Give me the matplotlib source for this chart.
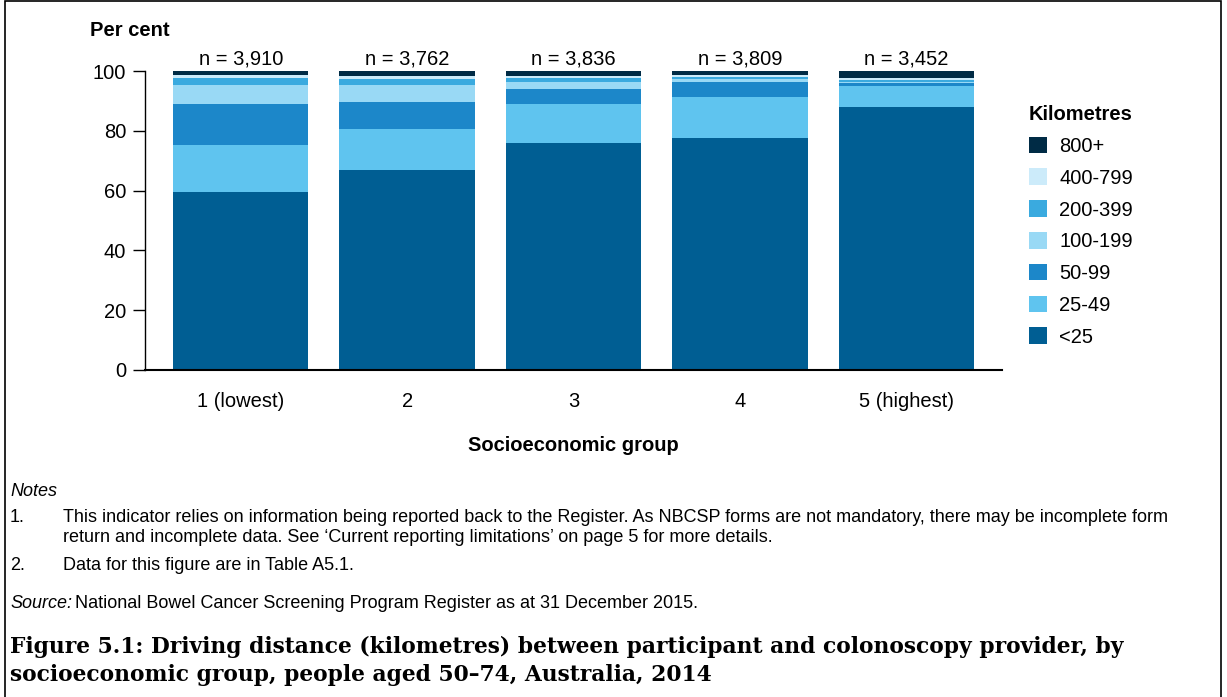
import numpy as np
import matplotlib.pyplot as plt
from matplotlib.patches import Patch, Rectangle

plt.rcParams['font.family'] = ['Liberation Sans', 'DejaVu Sans']

groups = ['1 (lowest)', '2', '3', '4', '5 (highest)']
n_labels = ['n = 3,910', 'n = 3,762', 'n = 3,836', 'n = 3,809', 'n = 3,452']

# per cent of participants by driving distance band (bottom to top)
bands = ['<25', '25-49', '50-99', '100-199', '200-399', '400-799', '800+']
lt25 = [59.5, 67.0, 75.8, 77.6, 87.8]
km25_49 = [15.6, 13.7, 13.3, 13.8, 7.3]
km50_99 = [13.9, 8.8, 5.0, 4.9, 0.9]
km100_199 = [6.4, 5.9, 2.3, 1.1, 0.4]
km200_399 = [2.3, 2.0, 1.3, 0.7, 0.7]
km400_799 = [1.1, 1.1, 0.5, 0.6, 0.4]
km800 = [1.2, 1.5, 1.8, 1.3, 2.5]
series = [lt25, km25_49, km50_99, km100_199, km200_399, km400_799, km800]
colors = ['#005E93', '#5FC4EF', '#1C87C9', '#99D9F5', '#3AAADF', '#CCEBFA', '#002B45']

fs_chart = 14.5

fig = plt.figure(figsize=(12.27, 6.97), dpi=100)
ax = fig.add_axes([0.1182, 0.4692, 0.6985, 0.4289])

x = np.arange(len(groups))
bottom = np.zeros(len(groups))
for vals, col, lab in zip(series, colors, bands):
    ax.bar(x, vals, width=0.813, bottom=bottom, color=col, label=lab, edgecolor='none')
    bottom += np.array(vals)

for xi, txt in zip(x, n_labels):
    ax.annotate(txt, (xi, 100), xytext=(0, 2), textcoords='offset points',
                ha='center', va='bottom', fontsize=fs_chart)

ax.set_xlim(-0.575, 4.575)
ax.set_ylim(0, 100)
ax.set_yticks([0, 20, 40, 60, 80, 100])
ax.set_xticks(x)
ax.set_xticklabels(groups)
ax.tick_params(axis='x', length=0, pad=16, labelsize=fs_chart)
ax.tick_params(axis='y', length=8.5, width=1, pad=5, labelsize=fs_chart)
for s in ['top', 'right']:
    ax.spines[s].set_visible(False)
ax.spines['left'].set_linewidth(1)
ax.spines['bottom'].set_linewidth(1.5)

ax.set_xlabel('Socioeconomic group', fontsize=fs_chart, fontweight='bold', labelpad=18)
fig.text(90 / 1227, 1 - 30 / 697, 'Per cent', fontsize=fs_chart, fontweight='bold', va='center')

handles = [Patch(facecolor=c, edgecolor='none') for c in colors][::-1]
leg = fig.legend(handles, bands[::-1], loc='upper left', bbox_to_anchor=(1011 / 1227, 1 - 87 / 697),
                 frameon=False, fontsize=fs_chart, title='Kilometres', handlelength=0.9, handleheight=0.9,
                 handletextpad=0.6, labelspacing=0.62, alignment='left')
leg.get_title().set_fontweight('bold')
leg.get_title().set_fontsize(fs_chart)

# notes and caption
fs = 13
fig.text(10 / 1227, 1 - 492 / 697, 'Notes', fontsize=fs, style='italic', va='center')
fig.text(10 / 1227, 1 - 517 / 697, '1.', fontsize=fs, va='center')
fig.text(63 / 1227, 1 - 517 / 697,
         'This indicator relies on information being reported back to the Register. As NBCSP forms are not mandatory, there may be incomplete form',
         fontsize=fs, va='center')
fig.text(63 / 1227, 1 - 538 / 697,
         'return and incomplete data. See \u2018Current reporting limitations\u2019 on page 5 for more details.',
         fontsize=fs, va='center')
fig.text(10 / 1227, 1 - 565 / 697, '2.', fontsize=fs, va='center')
fig.text(63 / 1227, 1 - 565 / 697, 'Data for this figure are in Table A5.1.', fontsize=fs, va='center')
fig.text(10 / 1227, 1 - 603 / 697, 'Source:', fontsize=fs, style='italic', va='center')
fig.text(75 / 1227, 1 - 603 / 697, 'National Bowel Cancer Screening Program Register as at 31 December 2015.',
         fontsize=fs, va='center')
fig.text(10 / 1227, 1 - 647 / 697,
         'Figure 5.1: Driving distance (kilometres) between participant and colonoscopy provider, by',
         fontsize=15.7, fontweight='bold', family='DejaVu Serif', va='center')
fig.text(10 / 1227, 1 - 675 / 697,
         'socioeconomic group, people aged 50\u201374, Australia, 2014',
         fontsize=15.7, fontweight='bold', family='DejaVu Serif', va='center')

# page frame
fig.patches.append(Rectangle((5 / 1227, -0.1), 1216 / 1227, 1.1 - 1 / 697, transform=fig.transFigure,
                             fill=False, edgecolor='black', linewidth=1.2))

fig.savefig('out.png', dpi=100)
